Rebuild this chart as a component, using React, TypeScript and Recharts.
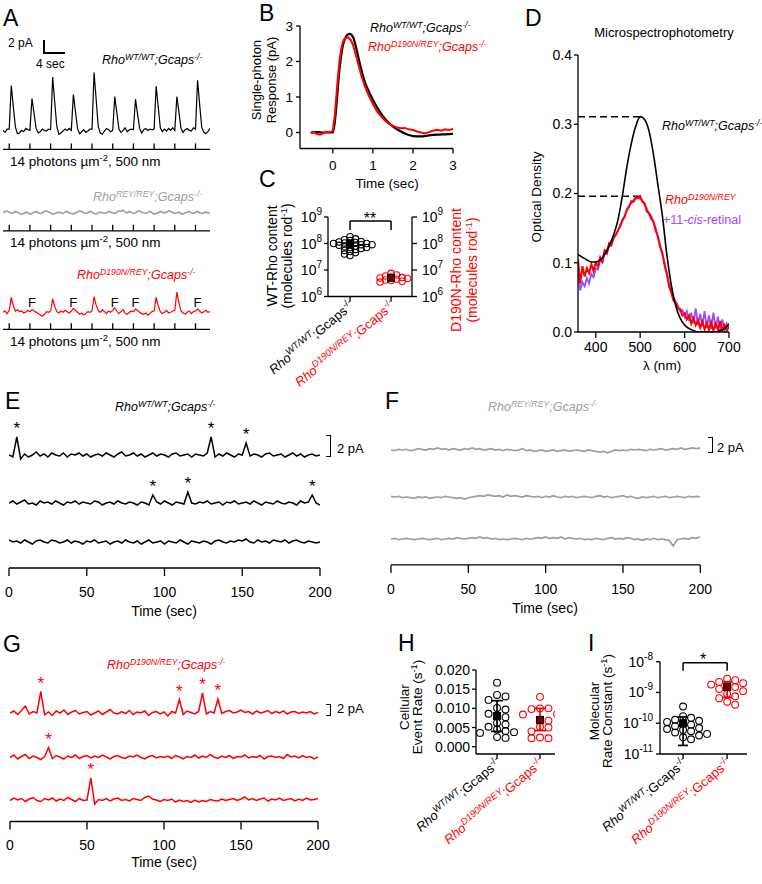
import React from "react";
import {
  LineChart,
  Line,
  XAxis,
  YAxis,
  ScatterChart,
  Scatter,
  ErrorBar,
  ReferenceLine,
  ReferenceDot,
} from "recharts";

const FONT = '"Liberation Sans", Arial, Helvetica, sans-serif';
const RED = "#ff0000";
const GREY = "#9e9e9e";
const PURPLE = "#9a4cff";

// ---------- A: responses to dim flashes, 40 s sampled every 0.4 s (pA)
const aFlashes = [1.2, 5.2, 9.2, 13.2, 17.2, 21.2, 25.2, 29.2, 33.2, 37.2];
const aFailures = [5.2, 13.2, 21.2, 25.2, 37.2];
const aWT = [
  0.0, -0.3, 0.2,
  0.2, 6.9, 3.6, 0.5, -0.5, -0.4, 0.0, -0.2, 0.3, 0.1,
  0.0, 4.9, 2.6, 0.3, -0.4, -0.2, 0.2, 0.0, -0.1, 0.2,
  0.1, 8.2, 4.3, 0.6, -0.6, -0.4, -0.1, 0.2, 0.0, 0.3,
  0.0, 5.5, 2.9, 0.3, -0.5, -0.2, 0.1, -0.3, -0.1, 0.2,
  0.2, 8.9, 4.8, 0.6, -0.4, -0.6, -0.1, 0.3, 0.1, -0.2,
  0.0, 5.2, 2.7, 0.2, -0.3, 0.0, 0.4, -0.2, 0.1, 0.2,
  0.1, 4.8, 2.5, 0.3, -0.4, 0.1, 0.3, 0.0, 0.2, 0.1,
  0.2, 6.8, 3.6, 0.4, -0.2, 0.2, -0.1, 0.3, 0.0, 0.4,
  0.0, 5.2, 2.8, 0.3, -0.3, 0.1, 0.3, 0.0, -0.1, 0.4,
  0.2, 7.7, 4.0, 0.5, -0.3, -0.5, -0.2, 0.3,
];
const aREY = [
  0.0, 0.2, 0.3, 0.1, -0.1, 0.0, 0.2, 0.1, -0.1, -0.2,
  -0.1, 0.1, 0.0, -0.2, -0.1, 0.1, 0.2, 0.0, -0.1, 0.0,
  0.2, 0.3, 0.1, 0.0, -0.2, -0.1, 0.0, 0.1, 0.0, -0.1,
  0.1, 0.2, 0.0, -0.1, -0.2, 0.0, 0.1, 0.3, 0.2, 0.0,
  -0.1, 0.0, 0.2, 0.1, -0.1, -0.2, 0.0, 0.1, 0.0, -0.1,
  0.0, 0.2, 0.1, 0.0, -0.1, 0.1, 0.3, 0.2, 0.4, 0.1,
  0.0, 0.2, 0.1, -0.1, 0.0, 0.2, 0.3, 0.1, 0.0, -0.1,
  0.1, 0.2, 0.0, -0.2, -0.1, 0.0, 0.2, 0.1, 0.0, 0.1,
  0.3, 0.2, 0.0, -0.1, 0.0, 0.1, -0.1, -0.2, 0.0, 0.1,
  0.2, 0.0, -0.1, 0.1, 0.2, 0.0, -0.1, 0.0, 0.1, 0.0, -0.1,
];
const aD190N = [
  0.0, 0.2, -0.2,
  0.3, 2.3, 1.0, 0.2, 0.4, 0.1, 0.2, -0.1, 0.0, 0.3,
  0.1, 0.4, 0.2, 0.0, -0.2, -0.4, -0.6, -0.3, 0.1, 0.0,
  0.2, 2.05, 0.9, 0.1, -0.1, 0.2, 0.0, 0.3, 0.1, -0.1,
  0.2, 0.6, 0.3, 0.0, -0.3, -0.1, -0.4, -0.2, 0.1, 0.0,
  0.2, 2.4, 1.1, 0.3, 0.0, 0.4, 0.1, -0.2, 0.2, 0.0,
  0.3, 0.7, 0.2, -0.2, 0.1, 0.4, -0.1, -0.3, 0.0, 0.2,
  0.1, 0.5, 0.3, 0.0, -0.2, -0.3, -0.1, -0.4, -0.2, 0.1,
  0.2, 2.3, 1.0, 0.1, -0.2, 0.0, 0.3, -0.1, 0.0, 0.2,
  0.3, 3.1, 1.4, 0.2, -0.1, -0.3, 0.0, 0.2, -0.2, 0.1,
  0.2, 0.5, 0.2, -0.1, 0.1, 0.3, 0.0, 0.1,
];

// ---------- B: single-photon responses (s, pA)
const bWTt = [-0.55, -0.4, -0.2, 0, 0.05, 0.1, 0.15, 0.2, 0.25, 0.3, 0.35, 0.42, 0.5, 0.6, 0.7, 0.8, 0.9, 1.0, 1.1, 1.2, 1.3, 1.4, 1.5, 1.6, 1.7, 1.8, 1.9, 2.0, 2.2, 2.4, 2.6, 2.8, 3.0];
const bWT = [0, 0.01, 0, 0, 0.3, 0.9, 1.6, 2.1, 2.45, 2.63, 2.74, 2.78, 2.7, 2.3, 1.82, 1.42, 1.15, 0.92, 0.72, 0.54, 0.39, 0.27, 0.17, 0.09, 0.03, -0.03, -0.07, -0.1, -0.11, -0.08, -0.06, -0.05, -0.04];
const bRedT = [-0.55, -0.48, -0.4, -0.32, -0.24, -0.16, -0.08, 0, 0.05, 0.1, 0.15, 0.2, 0.25, 0.3, 0.38, 0.45, 0.5, 0.6, 0.7, 0.8, 0.9, 1.0, 1.1, 1.2, 1.3, 1.4, 1.5, 1.6, 1.7, 1.8, 1.9, 2.0, 2.1, 2.2, 2.3, 2.4, 2.5, 2.6, 2.7, 2.8, 2.9, 3.0];
const bRed = [-0.02, 0.01, -0.04, -0.06, -0.02, 0.02, 0.0, 0.05, 0.5, 1.2, 1.85, 2.3, 2.55, 2.65, 2.68, 2.6, 2.48, 2.08, 1.65, 1.3, 1.03, 0.8, 0.6, 0.46, 0.34, 0.25, 0.19, 0.14, 0.12, 0.13, 0.09, 0.07, 0.03, 0.0, -0.02, 0.01, 0.05, 0.08, 0.05, 0.09, 0.07, 0.1];

// ---------- C: rhodopsin content (molecules/rod)
const cWT = [1.8e8, 1.5e8, 1.4e8, 1.3e8, 1.2e8, 1.15e8, 1.1e8, 1.05e8, 1.0e8, 1.0e8, 9.5e7, 9e7, 9e7, 8.5e7, 8e7, 7.5e7, 7e7, 7e7, 6.5e7, 6e7, 5.5e7, 5e7, 4.5e7, 4e7, 3.5e7];
const cD190N = [7.5e6, 6.5e6, 6e6, 5.5e6, 5.2e6, 5e6, 4.8e6, 4.5e6, 4.2e6, 4e6, 3.8e6, 3.5e6];
const cMean = [1.0e8, 5.0e6];
const cErr = [[3e7, 3e7], [1e6, 1.2e6]];

// ---------- D: absorbance spectra (nm, OD)
const dWT = [0.112, 0.108, 0.104, 0.101, 0.101, 0.104, 0.112, 0.124, 0.14, 0.162, 0.197, 0.238, 0.272, 0.297, 0.311, 0.307, 0.29, 0.256, 0.212, 0.168, 0.112, 0.068, 0.038, 0.02, 0.01, 0.005, 0.002, 0.0, 0.0, 0.0, 0.0, 0.0, 0.002, 0.005, 0.012];
const dD190N = [
  0.105, 0.07, 0.095, 0.08, 0.092, 0.085, 0.098, 0.088, 0.1,
  0.095, 0.108, 0.102, 0.118, 0.115, 0.128, 0.125, 0.137, 0.14, 0.147,
  0.152, 0.162, 0.166, 0.177, 0.181, 0.189, 0.188, 0.195, 0.193, 0.196,
  0.188, 0.186, 0.174, 0.172, 0.163, 0.16, 0.146, 0.138, 0.122, 0.114,
  0.096, 0.084, 0.066, 0.057, 0.045, 0.042, 0.034, 0.033, 0.024, 0.027,
  0.018, 0.024, 0.012, 0.02, 0.01, 0.017, 0.006, 0.015, 0.004, 0.013,
  0.003, 0.014, 0.002, 0.012, 0.004, 0.016, 0.003, 0.01, 0.002, 0.008,
];
const dRetinal = [
  0.085, 0.06, 0.072, 0.066, 0.078, 0.07, 0.084, 0.079, 0.092,
  0.09, 0.103, 0.1, 0.114, 0.112, 0.124, 0.126, 0.134, 0.141, 0.146,
  0.155, 0.16, 0.168, 0.175, 0.182, 0.186, 0.19, 0.192, 0.194, 0.192,
  0.19, 0.184, 0.178, 0.17, 0.168, 0.158, 0.15, 0.136, 0.126, 0.112,
  0.1, 0.085, 0.07, 0.06, 0.05, 0.044, 0.038, 0.03, 0.032, 0.022,
  0.03, 0.016, 0.028, 0.012, 0.034, 0.01, 0.026, 0.008, 0.03, 0.006,
  0.024, 0.004, 0.028, 0.005, 0.022, 0.003, 0.018, 0.002, 0.012, 0.004,
];

// ---------- E/F/G: dark recordings, 200 s sampled every 2.5 s (pA)
const eWT1 = [
  0.0, -0.2, 1.8, -0.4, 0.1, -0.2, 0.0, 0.3, -0.1, 0.1,
  -0.2, 0.2, 0.0, -0.1, 0.2, -0.2, 0.1, 0.0, 0.2, -0.1,
  0.1, -0.2, 0.0, 0.1, -0.1, 0.2, 0.0, -0.2, 0.1, 0.3,
  -0.1, 0.0, 0.2, -0.1, 0.1, -0.2, 0.0, 0.2, -0.1, 0.1,
  0.0, -0.2, 0.1, 0.2, -0.1, 0.0, 0.1, -0.2, 0.1, 0.0,
  -0.1, 0.2, 1.8, -0.2, 0.1, -0.1, 0.2, 0.0, -0.2, 0.1,
  0.0, 1.2, -0.1, 0.1, 0.0, -0.2, 0.1, 0.2, -0.1, 0.0,
  0.1, -0.2, 0.0, 0.2, -0.1, 0.1, -0.2, 0.0, 0.1, -0.1,
  0.0,
];
const eWT2 = [
  0.0, 0.2, -0.1, 0.1, 0.3, -0.1, 0.0, -0.2, 0.2, 0.0,
  0.1, -0.1, 0.2, 0.0, -0.2, 0.1, 0.0, 0.2, -0.1, 0.1,
  0.0, -0.1, 0.2, 0.1, -0.2, 0.0, 0.1, -0.1, 0.2, 0.0,
  -0.1, 0.1, 0.0, -0.2, 0.1, 0.0, -0.2, 0.8, 0.1, -0.1,
  0.2, 0.0, -0.2, 0.1, 0.0, -0.1, 1.1, 0.0, -0.1, 0.1,
  0.0, 0.2, -0.1, 0.0, 0.1, -0.2, 0.1, 0.0, 0.2, -0.1,
  0.0, 0.1, -0.1, 0.2, 0.0, -0.2, 0.1, 0.0, -0.1, 0.2,
  0.0, -0.1, 0.1, 0.0, -0.2, 0.2, 0.0, 0.1, 0.8, 0.0,
  -0.2,
];
const eWT3 = [
  0.2, 0.0, 0.1, -0.1, 0.2, 0.0, -0.2, 0.1, 0.2, 0.0,
  -0.1, 0.2, 0.1, -0.1, 0.0, 0.2, -0.1, 0.1, 0.0, -0.2,
  0.1, 0.0, 0.2, -0.1, 0.0, 0.1, -0.2, 0.0, 0.1, -0.1,
  0.2, 0.0, -0.1, 0.1, -0.2, 0.0, 0.2, -0.1, 0.0, 0.1,
  -0.2, 0.1, 0.0, -0.1, 0.2, 0.0, -0.2, 0.1, 0.0, -0.1,
  0.1, 0.0, -0.2, 0.1, 0.2, 0.0, -0.1, 0.1, 0.0, 0.2,
  0.1, 0.3, 0.0, -0.1, 0.2, 0.0, 0.1, -0.1, 0.2, 0.1,
  0.0, 0.2, -0.1, 0.1, 0.2, 0.0, -0.1, 0.1, 0.0, -0.1,
  0.0,
];
const eStars1 = [5, 130, 152.5];
const eStars2 = [92.5, 115, 195];

const fREY1 = [
  0.0, -0.1, 0.1, 0.0, 0.1, -0.1, 0.0, 0.2, 0.1, 0.0,
  0.2, 0.1, 0.3, 0.1, 0.2, 0.0, 0.2, 0.1, 0.0, 0.2,
  0.1, 0.3, 0.1, 0.2, 0.0, 0.1, 0.2, 0.0, 0.1, -0.1,
  0.1, 0.0, -0.1, 0.0, 0.2, -0.1, 0.0, -0.2, -0.1, 0.0,
  -0.2, -0.1, 0.0, -0.2, -0.1, 0.0, -0.2, -0.1, 0.0, -0.1,
  -0.2, 0.0, -0.1, -0.2, -0.3, -0.2, -0.4, -0.2, 0.0, -0.1,
  0.0, -0.1, 0.1, 0.0, 0.1, 0.0, -0.1, 0.1, 0.0, 0.1,
  0.2, 0.0, 0.1, 0.2, 0.1, 0.3, 0.1, 0.2, 0.3, 0.2,
  0.3,
];
const fREY2 = [
  0.1, 0.0, 0.1, -0.1, 0.0, -0.1, -0.2, 0.0, -0.1, 0.0,
  -0.2, -0.1, 0.0, -0.1, 0.1, 0.0, -0.1, -0.2, -0.1, -0.3,
  -0.1, 0.0, 0.1, 0.2, 0.1, 0.3, 0.2, 0.1, 0.2, 0.0,
  0.3, 0.1, 0.2, 0.1, 0.0, 0.2, 0.1, 0.0, 0.1, -0.1,
  0.1, 0.0, 0.2, 0.0, -0.1, 0.1, 0.0, 0.1, -0.1, 0.0,
  0.1, 0.0, -0.1, 0.1, 0.2, 0.0, 0.1, -0.1, 0.0, 0.1,
  0.2, 0.0, 0.1, -0.1, -0.2, 0.0, -0.1, 0.0, 0.1, -0.1,
  0.0, 0.1, -0.1, 0.0, 0.1, 0.0, -0.1, 0.1, 0.0, 0.1,
  0.0,
];
const fREY3 = [
  0.0, 0.1, -0.1, 0.0, 0.1, 0.0, -0.1, 0.0, 0.1, 0.0,
  -0.1, 0.0, 0.1, -0.1, 0.0, 0.1, 0.0, 0.2, 0.1, 0.0,
  0.1, 0.2, 0.1, 0.3, 0.1, 0.2, 0.0, 0.1, -0.1, 0.0,
  -0.1, 0.0, 0.1, 0.0, -0.1, 0.1, 0.0, 0.1, 0.2, 0.1,
  0.3, 0.1, 0.2, 0.1, 0.3, 0.0, 0.2, 0.1, 0.0, 0.1,
  -0.1, 0.0, -0.1, 0.1, 0.0, -0.1, 0.1, 0.2, 0.0, 0.1,
  0.0, 0.2, 0.1, -0.1, 0.0, -0.2, 0.0, -0.1, 0.1, -0.1,
  0.0, -0.1, -0.2, -1.0, -0.1, 0.0, 0.1, 0.0, 0.2, 0.1,
  0.3,
];

const gD1 = [
  0.0, 0.4, -0.3, 0.5, 1.4, -0.2, 0.3, 0.0, 4.3, -0.4,
  0.2, -0.5, 0.4, 0.0, 0.6, -0.3, 0.2, 0.5, -0.2, 0.1,
  0.3, -0.4, 0.0, 0.4, -0.3, 0.2, 0.7, 0.0, -0.2, 0.3,
  -0.1, 0.5, -0.3, 0.2, 0.0, 0.4, -0.5, 0.1, 0.3, -0.2,
  0.2, -0.6, 0.3, 0.0, 2.7, -0.3, 0.4, 0.1, -0.2, 0.3,
  4.0, -0.2, 0.3, 0.0, 2.8, -0.1, 0.3, 0.5, 0.0, 0.2,
  0.6, 0.1, 0.3, -0.2, 0.4, 0.0, 0.2, 0.5, -0.1, 0.3,
  0.0, 0.4, -0.2, 0.2, 0.3, -0.1, 0.2, 0.0, 0.3, -0.2,
  0.1,
];
const gD2 = [
  0.0, 0.5, -0.3, 0.2, 0.6, -0.2, 0.3, 0.0, -0.4, 0.2,
  2.0, -0.2, 0.4, 0.1, -0.3, 0.3, 0.0, 0.5, -0.2, 0.2,
  0.4, -0.1, 0.3, 0.0, 0.5, 0.1, -0.3, 0.2, 0.4, 0.0,
  -0.2, 0.3, 0.1, 0.5, 0.0, -0.3, 0.2, 0.4, -0.1, 0.2,
  0.0, 0.3, -0.2, 0.4, 0.1, -0.3, 0.2, 0.0, 0.5, -0.1,
  0.3, 0.0, 0.6, 0.1, -0.2, 0.3, 0.0, 0.4, -0.2, 0.2,
  0.1, 0.5, -0.1, 0.2, 0.0, 0.4, -0.3, 0.2, 0.3, 0.0,
  0.2, -0.2, 0.6, 0.1, 0.3, -0.1, 0.4, 0.0, 0.2, -0.3,
  0.1,
];
const gD3 = [
  0.0, 0.5, 0.1, 0.4, -0.2, 0.3, 0.6, 0.0, -0.2, 0.4,
  0.1, 0.5, -0.1, 0.3, 0.0, 0.6, 0.2, -0.2, 0.4, 0.0,
  0.1, 4.5, -0.7, 0.2, 0.0, 0.4, -0.1, 0.3, 0.5, 0.0,
  0.2, -0.1, 0.4, 0.2, 0.0, 0.6, 0.9, 0.3, 0.1, -0.2,
  0.2, 0.0, 0.3, -0.3, 0.1, -0.2, 0.0, -0.4, 0.1, -0.3,
  0.0, -0.2, 0.2, 0.0, -0.1, 0.3, 0.0, 0.2, 0.4, 0.0,
  0.3, 0.7, 0.1, 0.4, 0.0, 0.3, 0.5, -0.1, 0.3, 0.1,
  0.5, 0.0, 0.2, 0.4, -0.1, 0.3, 0.0, 0.5, 0.1, 0.2,
  0.4,
];
const gStars1 = [20, 110, 125, 135];
const gStars2 = [25];
const gStars3 = [52.5];

// ---------- H / I: per-cell rates
const hWT = [0.0167, 0.0135, 0.0131, 0.0122, 0.0101, 0.0097, 0.0086, 0.0082, 0.0077, 0.0062, 0.0058, 0.0052, 0.0045, 0.0041, 0.0038, 0.0036, 0.0025, 0.0023];
const hD190N = [0.013, 0.01, 0.01, 0.0098, 0.0085, 0.0084, 0.007, 0.0068, 0.0052, 0.005, 0.004, 0.0024, 0.0022, 0.0022];
const hMean = [0.008, 0.007];
const hErr = [[0.004, 0.004], [0.0028, 0.003]];

const iWT = [3.5e-10, 1.7e-10, 1.5e-10, 1.3e-10, 1.2e-10, 1.1e-10, 1.0e-10, 9e-11, 8e-11, 7e-11, 6.5e-11, 6e-11, 5.5e-11, 5e-11, 4.5e-11, 4e-11, 3.5e-11, 3e-11];
const iD190N = [2.8e-9, 2.5e-9, 2.2e-9, 2.0e-9, 1.8e-9, 1.7e-9, 1.5e-9, 1.3e-9, 1.1e-9, 9e-10, 7.5e-10, 6.5e-10, 5e-10, 4e-10];
const iMean = [1.0e-10, 1.5e-9];
const iErr = [[8.1e-11, 6e-11], [8.1e-10, 7e-10]];

// ---------- helpers
type Pt = { t: number; v: number };
const series = (values: number[], start: number, end: number): Pt[] =>
  values.map((v, i) => ({ t: start + ((end - start) * i) / (values.length - 1), v }));
const pairs = (ts: number[], vs: number[]): Pt[] => ts.map((t, i) => ({ t, v: vs[i] }));

const AX = { stroke: "#000", strokeWidth: 1.3 };
const noLabel = () => <g />;

function Sup({ children }: { children: React.ReactNode }) {
  return <span style={{ fontSize: "0.7em", position: "relative", top: "-0.5em" }}>{children}</span>;
}

function Geno({ sup, noGcaps }: { sup: string; noGcaps?: boolean }) {
  return (
    <i>
      Rho<Sup>{sup}</Sup>
      {noGcaps ? null : (
        <>
          ;Gcaps<Sup>-/-</Sup>
        </>
      )}
    </i>
  );
}

function T({ x, y, size = 12.5, color = "#000", anchor = "start", children }: any) {
  const tx = anchor === "middle" ? "-50%" : anchor === "end" ? "-100%" : "0";
  return (
    <div
      style={{
        position: "absolute",
        left: x,
        top: y - 0.85 * size,
        fontSize: size,
        lineHeight: `${size}px`,
        color,
        whiteSpace: "nowrap",
        transform: `translateX(${tx})`,
      }}
    >
      {children}
    </div>
  );
}

function VText({ cx, cy, lines, size = 13.5, lh = 15, color = "#000" }: any) {
  return (
    <div
      style={{
        position: "absolute",
        left: cx,
        top: cy,
        transform: "translate(-50%,-50%) rotate(-90deg)",
        fontSize: size,
        lineHeight: `${lh}px`,
        color,
        whiteSpace: "nowrap",
        textAlign: "center",
      }}
    >
      {lines.map((l: React.ReactNode, i: number) => (
        <div key={i}>{l}</div>
      ))}
    </div>
  );
}

function Bracket({ left, top, h }: { left: number; top: number; h: number }) {
  return (
    <div
      style={{
        position: "absolute",
        left,
        top,
        width: 4,
        height: h,
        borderTop: "1.4px solid #000",
        borderRight: "1.4px solid #000",
        borderBottom: "1.4px solid #000",
      }}
    />
  );
}

type TraceProps = {
  values: number[];
  dur: number;
  left: number;
  width: number;
  base: number;
  ppu: number;
  lo: number;
  hi: number;
  color: string;
  sw?: number;
  marks?: number[];
  markText?: string;
  markColor?: string;
  markAtBase?: boolean;
  flashes?: number[];
  timeAxis?: boolean;
};

function Trace(p: TraceProps) {
  const data = series(p.values, 0, p.dur);
  const dt = p.dur / (p.values.length - 1);
  const plotH = (p.hi - p.lo) * p.ppu;
  const axisH = p.timeAxis ? 40 : 0;
  const pad = p.timeAxis ? 16 : 2;
  const bottom = p.flashes ? 3 : 0;
  return (
    <div style={{ position: "absolute", left: p.left - pad, top: p.base - p.hi * p.ppu }}>
      <LineChart
        width={p.width + 2 * pad}
        height={plotH + axisH + bottom}
        data={data}
        margin={{ top: 0, right: pad, bottom, left: pad }}
      >
        {p.timeAxis ? (
          <XAxis
            dataKey="t"
            type="number"
            domain={[0, p.dur]}
            allowDataOverflow
            ticks={[0, 50, 100, 150, 200]}
            interval={0}
            height={axisH}
            tickSize={8}
            tickMargin={11}
            axisLine={AX}
            tickLine={AX}
            tick={{ fill: "#000", fontSize: 14, fontFamily: FONT }}
          />
        ) : p.flashes ? (
          <XAxis
            dataKey="t"
            type="number"
            domain={[0, p.dur]}
            allowDataOverflow
            mirror
            ticks={p.flashes}
            interval={0}
            tick={noLabel}
            tickSize={6}
            axisLine={AX}
            tickLine={AX}
          />
        ) : (
          <XAxis dataKey="t" type="number" domain={[0, p.dur]} allowDataOverflow hide />
        )}
        <YAxis type="number" domain={[p.lo, p.hi]} allowDataOverflow hide />
        <Line
          type="linear"
          dataKey="v"
          stroke={p.color}
          strokeWidth={p.sw ?? 1.5}
          dot={false}
          isAnimationActive={false}
        />
        {(p.marks ?? []).map((t) => (
          <ReferenceDot
            key={t}
            x={t}
            y={p.markAtBase ? 0 : p.values[Math.round(t / dt)]}
            r={0}
            shape={(sp: any) => (
              <text
                x={sp.cx + (p.markAtBase ? 2 : 0)}
                y={sp.cy - (p.markAtBase ? 5 : 3)}
                textAnchor="middle"
                fontSize={p.markAtBase ? 13 : 17}
                fontFamily={FONT}
                fill={p.markColor ?? p.color}
              >
                {p.markText ?? "*"}
              </text>
            )}
          />
        ))}
      </LineChart>
    </div>
  );
}

function swarmPoints(
  vals: number[],
  x: number,
  yPx: (v: number) => number,
  r: number,
  step: number,
  overlap: number
) {
  const placed: { dx: number; y: number }[] = [];
  const minD2 = (2 * r * overlap) ** 2;
  return vals.map((v) => {
    const y = yPx(v);
    let dx = 0;
    for (let k = 0; k < 30; k++) {
      const cand = (k % 2 === 1 ? 1 : -1) * Math.ceil(k / 2) * step;
      if (placed.every((q) => (q.dx - cand) ** 2 + (q.y - y) ** 2 >= minD2)) {
        dx = cand;
        break;
      }
    }
    placed.push({ dx, y });
    return { x, y: v, dx };
  });
}

const ring = (color: string, r: number) => (sp: any) => (
  <circle cx={sp.cx + (sp.payload?.dx ?? 0)} cy={sp.cy} r={r} fill="none" stroke={color} strokeWidth={1.1} />
);
const square = (fill: string) => (sp: any) => (
  <rect x={sp.cx - 3.5} y={sp.cy - 3.5} width={7} height={7} fill={fill} stroke="#000" strokeWidth={1} />
);

const CAT = [
  { sup: "WT/WT", color: "#000" },
  { sup: "D190N/REY", color: RED },
];

const catTick = (props: any) => {
  const { x, y, payload } = props;
  const L = CAT[payload.value - 1];
  if (!L) return <g />;
  const ax = x + 5;
  const ay = y + 3;
  return (
    <text
      x={ax}
      y={ay}
      transform={`rotate(-40 ${ax} ${ay})`}
      textAnchor="end"
      fontSize={13}
      fontFamily={FONT}
      fill={L.color}
    >
      <tspan fontStyle="italic">Rho</tspan>
      <tspan fontSize={9.5} dy={-5} fontStyle="italic">
        {L.sup}
      </tspan>
      <tspan dy={5}>;Gcaps</tspan>
      <tspan fontSize={9.5} dy={-5}>
        -/-
      </tspan>
    </text>
  );
};

const powTick = (anchor: "start" | "end") => (props: any) => {
  const { x, y, payload } = props;
  const e = Math.round(Math.log10(payload.value));
  return (
    <text x={x} y={y + 5} textAnchor={anchor} fontSize={14} fontFamily={FONT} fill="#000">
      10
      <tspan fontSize={10} dy={-7}>
        {e}
      </tspan>
    </text>
  );
};

const TICK = { fill: "#000", fontSize: 14, fontFamily: FONT };

function PanelB() {
  return (
    <div style={{ position: "absolute", left: 265, top: 12 }}>
      <LineChart width={198} height={161.5} margin={{ top: 14, right: 10, bottom: 0, left: 0 }}>
        <XAxis
          dataKey="t"
          type="number"
          domain={[-0.82, 3]}
          allowDataOverflow
          ticks={[0, 1, 2, 3]}
          interval={0}
          height={25}
          tickSize={5}
          tickMargin={7}
          axisLine={AX}
          tickLine={AX}
          tick={{ ...TICK, fontSize: 13.5 }}
        />
        <YAxis
          type="number"
          domain={[-0.45, 3]}
          allowDataOverflow
          ticks={[0, 1, 2, 3]}
          interval={0}
          width={35}
          tickSize={4}
          tickMargin={3}
          axisLine={AX}
          tickLine={AX}
          tick={{ ...TICK, fontSize: 13.5 }}
        />
        <Line data={pairs(bWTt, bWT)} dataKey="v" type="monotone" stroke="#000" strokeWidth={2.2} dot={false} isAnimationActive={false} />
        <Line data={pairs(bRedT, bRed)} dataKey="v" type="linear" stroke={RED} strokeWidth={2} dot={false} isAnimationActive={false} />
      </LineChart>
    </div>
  );
}

function PanelC() {
  const wt = swarmPoints(cWT, 1, (v) => Math.log10(v) * 26.5, 3.2, 5.5, 0.5);
  const mut = swarmPoints(cD190N, 2, (v) => Math.log10(v) * 26.5, 3.2, 5.5, 0.55);
  const means = cMean.map((m, i) => ({ x: i + 1, y: m, err: cErr[i] }));
  const top = 7.1e8;
  const leg = 3.2e8;
  return (
    <div style={{ position: "absolute", left: 262, top: 195 }}>
      <ScatterChart width={206} height={201.5} margin={{ top: 22, right: 8, bottom: 0, left: 16 }}>
        <XAxis
          dataKey="x"
          type="number"
          domain={[0.463, 2.51]}
          allowDataOverflow
          ticks={[1, 2]}
          interval={0}
          height={100}
          tickSize={5}
          axisLine={AX}
          tickLine={AX}
          tick={catTick}
        />
        <YAxis
          yAxisId="l"
          dataKey="y"
          type="number"
          scale="log"
          domain={[1e6, 1e9]}
          allowDataOverflow
          ticks={[1e6, 1e7, 1e8, 1e9]}
          interval={0}
          width={50}
          tickSize={4}
          tickMargin={2}
          axisLine={AX}
          tickLine={AX}
          tick={powTick("end")}
        />
        <YAxis
          yAxisId="r"
          orientation="right"
          dataKey="y"
          type="number"
          scale="log"
          domain={[1e6, 1e9]}
          allowDataOverflow
          ticks={[1e6, 1e7, 1e8, 1e9]}
          interval={0}
          width={48}
          tickSize={5}
          tickMargin={5}
          axisLine={AX}
          tickLine={AX}
          tick={powTick("start")}
        />
        <ReferenceLine yAxisId="l" segment={[{ x: 1, y: top }, { x: 2, y: top }]} stroke="#000" strokeWidth={1.5} />
        <ReferenceLine yAxisId="l" segment={[{ x: 1, y: top }, { x: 1, y: leg }]} stroke="#000" strokeWidth={1.5} />
        <ReferenceLine yAxisId="l" segment={[{ x: 2, y: top }, { x: 2, y: leg }]} stroke="#000" strokeWidth={1.5} />
        <Scatter yAxisId="l" data={wt} shape={ring("#000", 3.2)} isAnimationActive={false} />
        <Scatter yAxisId="r" data={mut} shape={ring(RED, 3.2)} isAnimationActive={false} />
        <Scatter yAxisId="l" data={[means[0]]} shape={square("#000")} isAnimationActive={false}>
          <ErrorBar dataKey="err" direction="y" width={4} stroke="#000" strokeWidth={1.5} />
        </Scatter>
        <Scatter yAxisId="l" data={[means[1]]} shape={square("#700")} isAnimationActive={false}>
          <ErrorBar dataKey="err" direction="y" width={4} stroke={RED} strokeWidth={1.5} />
        </Scatter>
      </ScatterChart>
    </div>
  );
}

function PanelD() {
  const wt = series(dWT, 360, 700);
  const red = series(dD190N, 360, 700);
  const pur = series(dRetinal, 360, 700);
  const pk = (s: Pt[]) => s.reduce((a, b) => (b.v > a.v ? b : a));
  const pw = pk(wt);
  const pr = pk(red);
  return (
    <div style={{ position: "absolute", left: 530, top: 40 }}>
      <LineChart width={211} height={320} margin={{ top: 15, right: 12, bottom: 0, left: 10 }}>
        <XAxis
          dataKey="t"
          type="number"
          domain={[360, 700]}
          allowDataOverflow
          ticks={[400, 500, 600, 700]}
          interval={0}
          height={28}
          tickSize={6}
          tickMargin={4}
          axisLine={AX}
          tickLine={AX}
          tick={TICK}
        />
        <YAxis
          type="number"
          domain={[0, 0.4]}
          allowDataOverflow
          ticks={[0, 0.1, 0.2, 0.3, 0.4]}
          interval={0}
          width={38}
          tickSize={4}
          tickMargin={2}
          tickFormatter={(v: number) => v.toFixed(1)}
          axisLine={AX}
          tickLine={AX}
          tick={TICK}
        />
        <ReferenceLine segment={[{ x: 360, y: pw.v }, { x: pw.t, y: pw.v }]} stroke="#000" strokeWidth={1.5} strokeDasharray="7 4" />
        <ReferenceLine segment={[{ x: 360, y: pr.v }, { x: pr.t, y: pr.v }]} stroke="#000" strokeWidth={1.5} strokeDasharray="7 4" />
        <Line data={pur} dataKey="v" type="linear" stroke={PURPLE} strokeWidth={1.8} dot={false} isAnimationActive={false} />
        <Line data={red} dataKey="v" type="linear" stroke={RED} strokeWidth={2} dot={false} isAnimationActive={false} />
        <Line data={wt} dataKey="v" type="monotone" stroke="#000" strokeWidth={1.6} dot={false} isAnimationActive={false} />
      </LineChart>
    </div>
  );
}

function PanelH() {
  const px = (v: number) => (v / 0.005) * 19.2;
  const wt = swarmPoints(hWT, 1, px, 3.4, 8.5, 0.95);
  const mut = swarmPoints(hD190N, 2, px, 3.4, 8.5, 0.95);
  return (
    <div style={{ position: "absolute", left: 400, top: 654 }}>
      <ScatterChart width={162} height={210} margin={{ top: 16, right: 7, bottom: 0, left: 31 }}>
        <XAxis
          dataKey="x"
          type="number"
          domain={[0.51, 2.35]}
          allowDataOverflow
          ticks={[1, 2]}
          interval={0}
          height={110}
          tickSize={5}
          axisLine={AX}
          tickLine={AX}
          tick={catTick}
        />
        <YAxis
          dataKey="y"
          type="number"
          domain={[-0.0019, 0.02]}
          allowDataOverflow
          ticks={[0, 0.005, 0.01, 0.015, 0.02]}
          interval={0}
          width={45}
          tickSize={4}
          tickMargin={2}
          tickFormatter={(v: number) => v.toFixed(3)}
          axisLine={AX}
          tickLine={AX}
          tick={TICK}
        />
        <Scatter data={wt} shape={ring("#000", 3.4)} isAnimationActive={false} />
        <Scatter data={mut} shape={ring(RED, 3.4)} isAnimationActive={false} />
        <Scatter data={[{ x: 1, y: hMean[0], err: hErr[0] }]} shape={square("#000")} isAnimationActive={false}>
          <ErrorBar dataKey="err" direction="y" width={6} stroke="#000" strokeWidth={1.7} />
        </Scatter>
        <Scatter data={[{ x: 2, y: hMean[1], err: hErr[1] }]} shape={square("#700")} isAnimationActive={false}>
          <ErrorBar dataKey="err" direction="y" width={6} stroke={RED} strokeWidth={1.7} />
        </Scatter>
      </ScatterChart>
    </div>
  );
}

function PanelI() {
  const px = (v: number) => Math.log10(v) * 30.8;
  const wt = swarmPoints(iWT, 1, px, 3.4, 8, 0.9);
  const mut = swarmPoints(iD190N, 2, px, 3.4, 8, 0.9);
  const top = 9.3e-9;
  const leg = 5.1e-9;
  return (
    <div style={{ position: "absolute", left: 590, top: 646 }}>
      <ScatterChart width={172} height={218} margin={{ top: 15.7, right: 15, bottom: 0, left: 25 }}>
        <XAxis
          dataKey="x"
          type="number"
          domain={[0.477, 2.45]}
          allowDataOverflow
          ticks={[1, 2]}
          interval={0}
          height={110}
          tickSize={5}
          axisLine={AX}
          tickLine={AX}
          tick={catTick}
        />
        <YAxis
          dataKey="y"
          type="number"
          scale="log"
          domain={[1e-11, 1e-8]}
          allowDataOverflow
          ticks={[1e-11, 1e-10, 1e-9, 1e-8]}
          interval={0}
          width={45}
          tickSize={4}
          tickMargin={3}
          axisLine={AX}
          tickLine={AX}
          tick={powTick("end")}
        />
        <ReferenceLine segment={[{ x: 1, y: top }, { x: 2, y: top }]} stroke="#000" strokeWidth={1.5} />
        <ReferenceLine segment={[{ x: 1, y: top }, { x: 1, y: leg }]} stroke="#000" strokeWidth={1.5} />
        <ReferenceLine segment={[{ x: 2, y: top }, { x: 2, y: leg }]} stroke="#000" strokeWidth={1.5} />
        <Scatter data={wt} shape={ring("#000", 3.4)} isAnimationActive={false} />
        <Scatter data={mut} shape={ring(RED, 3.4)} isAnimationActive={false} />
        <Scatter data={[{ x: 1, y: iMean[0], err: iErr[0] }]} shape={square("#000")} isAnimationActive={false}>
          <ErrorBar dataKey="err" direction="y" width={5} stroke="#000" strokeWidth={1.7} />
        </Scatter>
        <Scatter data={[{ x: 2, y: iMean[1], err: iErr[1] }]} shape={square("#700")} isAnimationActive={false}>
          <ErrorBar dataKey="err" direction="y" width={5} stroke={RED} strokeWidth={1.7} />
        </Scatter>
      </ScatterChart>
    </div>
  );
}

const photons = (
  <>
    14 photons µm<Sup>-2</Sup>, 500 nm
  </>
);

export default function App() {
  return (
    <div
      style={{
        position: "absolute",
        left: 0,
        top: 0,
        width: 762,
        height: 884,
        overflow: "hidden",
        background: "#fff",
        fontFamily: FONT,
        color: "#000",
      }}
    >
      {/* A */}
      <T x={3} y={27} size={23}>A</T>
      <T x={8} y={47} size={12}>2 pA</T>
      <div style={{ position: "absolute", left: 43, top: 40, width: 2, height: 14, background: "#000" }} />
      <div style={{ position: "absolute", left: 43, top: 52, width: 22, height: 2, background: "#000" }} />
      <T x={36} y={68} size={12}>4 sec</T>
      <T x={102} y={65}><Geno sup="WT/WT" /></T>
      <Trace values={aWT} dur={40} left={3} width={207} base={130} ppu={6.5} lo={-2.92} hi={9.6} color="#000" sw={1.2} flashes={aFlashes} />
      <T x={10} y={166} size={13.5}>{photons}</T>
      <T x={93} y={202} color={GREY}><Geno sup="REY/REY" /></T>
      <Trace values={aREY} dur={40} left={3} width={207} base={213} ppu={6.5} lo={-2.77} hi={1.2} color={GREY} sw={1.6} flashes={aFlashes} />
      <T x={10} y={247} size={13.5}>{photons}</T>
      <T x={77} y={280} color={RED}><Geno sup="D190N/REY" /></T>
      <Trace values={aD190N} dur={40} left={3} width={207} base={312} ppu={6.5} lo={-2.62} hi={4.2} color={RED} sw={1.2} flashes={aFlashes} marks={aFailures} markText="F" markAtBase markColor="#000" />
      <T x={10} y={346} size={13.5}>{photons}</T>

      {/* B */}
      <T x={259} y={22} size={23}>B</T>
      <VText cx={264} cy={80} size={13} lh={15} lines={["Single-photon", "Response (pA)"]} />
      <PanelB />
      <T x={370} y={33}><Geno sup="WT/WT" /></T>
      <T x={368} y={52} color={RED}><Geno sup="D190N/REY" /></T>
      <T x={387} y={188} size={13.5} anchor="middle">Time (sec)</T>

      {/* C */}
      <T x={259} y={188} size={23}>C</T>
      <VText cx={280} cy={256} size={14} lh={15} lines={["WT-Rho content", <>(molecules rod<Sup>-1</Sup>)</>]} />
      <VText cx={465} cy={270} size={14} lh={16} color={RED} lines={["D190N-Rho content", <>(molecules rod<Sup>-1</Sup>)</>]} />
      <PanelC />
      <T x={370} y={225} size={16} anchor="middle">**</T>

      {/* D */}
      <T x={525} y={27} size={23}>D</T>
      <T x={664} y={37} size={13} anchor="middle">Microspectrophotometry</T>
      <VText cx={536} cy={197} size={13.5} lines={["Optical Density"]} />
      <PanelD />
      <T x={662} y={370} size={13.5} anchor="middle">λ (nm)</T>
      <T x={662} y={131}><Geno sup="WT/WT" /></T>
      <T x={665} y={205} color={RED}><Geno sup="D190N/REY" noGcaps /></T>
      <T x={663} y={225} color={PURPLE}>+11-<i>cis</i>-retinal</T>

      {/* E */}
      <T x={5} y={410} size={23}>E</T>
      <T x={115} y={412}><Geno sup="WT/WT" /></T>
      <Bracket left={326} top={435} h={20} />
      <T x={337} y={453} size={13}>2 pA</T>
      <Trace values={eWT1} dur={200} left={8.5} width={311} base={455} ppu={10} lo={-1} hi={4} color="#000" marks={eStars1} />
      <Trace values={eWT2} dur={200} left={8.5} width={311} base={503} ppu={10} lo={-1} hi={3.3} color="#000" marks={eStars2} />
      <Trace values={eWT3} dur={200} left={8.5} width={311} base={542} ppu={10} lo={-2.6} hi={1} color="#000" timeAxis />
      <T x={164} y={616} size={14} anchor="middle">Time (sec)</T>

      {/* F */}
      <T x={385} y={410} size={23}>F</T>
      <T x={488} y={412} color={GREY}><Geno sup="REY/REY" /></T>
      <Bracket left={708} top={437} h={14} />
      <T x={717} y={452} size={13}>2 pA</T>
      <Trace values={fREY1} dur={200} left={390.7} width={309.3} base={450} ppu={7} lo={-1} hi={1} color={GREY} sw={1.7} />
      <Trace values={fREY2} dur={200} left={390.7} width={309.3} base={497} ppu={7} lo={-1} hi={1} color={GREY} sw={1.7} />
      <Trace values={fREY3} dur={200} left={390.7} width={309.3} base={539} ppu={7} lo={-3.71} hi={1} color={GREY} sw={1.7} timeAxis />
      <T x={545} y={613} size={14} anchor="middle">Time (sec)</T>

      {/* G */}
      <T x={3} y={653} size={23}>G</T>
      <T x={107} y={670} color={RED}><Geno sup="D190N/REY" /></T>
      <Bracket left={326} top={704} h={10} />
      <T x={337} y={713} size={13}>2 pA</T>
      <Trace values={gD1} dur={200} left={10} width={308} base={713} ppu={5} lo={-2} hi={9} color={RED} marks={gStars1} />
      <Trace values={gD2} dur={200} left={10} width={308} base={757} ppu={5} lo={-2} hi={6.5} color={RED} marks={gStars2} />
      <Trace values={gD3} dur={200} left={10} width={308} base={800} ppu={5} lo={-4.2} hi={9.5} color={RED} marks={gStars3} timeAxis />
      <T x={164} y={867} size={14} anchor="middle">Time (sec)</T>

      {/* H */}
      <T x={398} y={652} size={23}>H</T>
      <VText cx={411} cy={707} size={13.5} lh={13} lines={["Cellular", <>Event Rate (s<Sup>-1</Sup>)</>]} />
      <PanelH />

      {/* I */}
      <T x={588} y={652} size={23}>I</T>
      <VText cx={601} cy={711} size={13.5} lh={13} lines={["Molecular", <>Rate Constant (s<Sup>-1</Sup>)</>]} />
      <PanelI />
      <T x={703} y={666} size={16} anchor="middle">*</T>
    </div>
  );
}
